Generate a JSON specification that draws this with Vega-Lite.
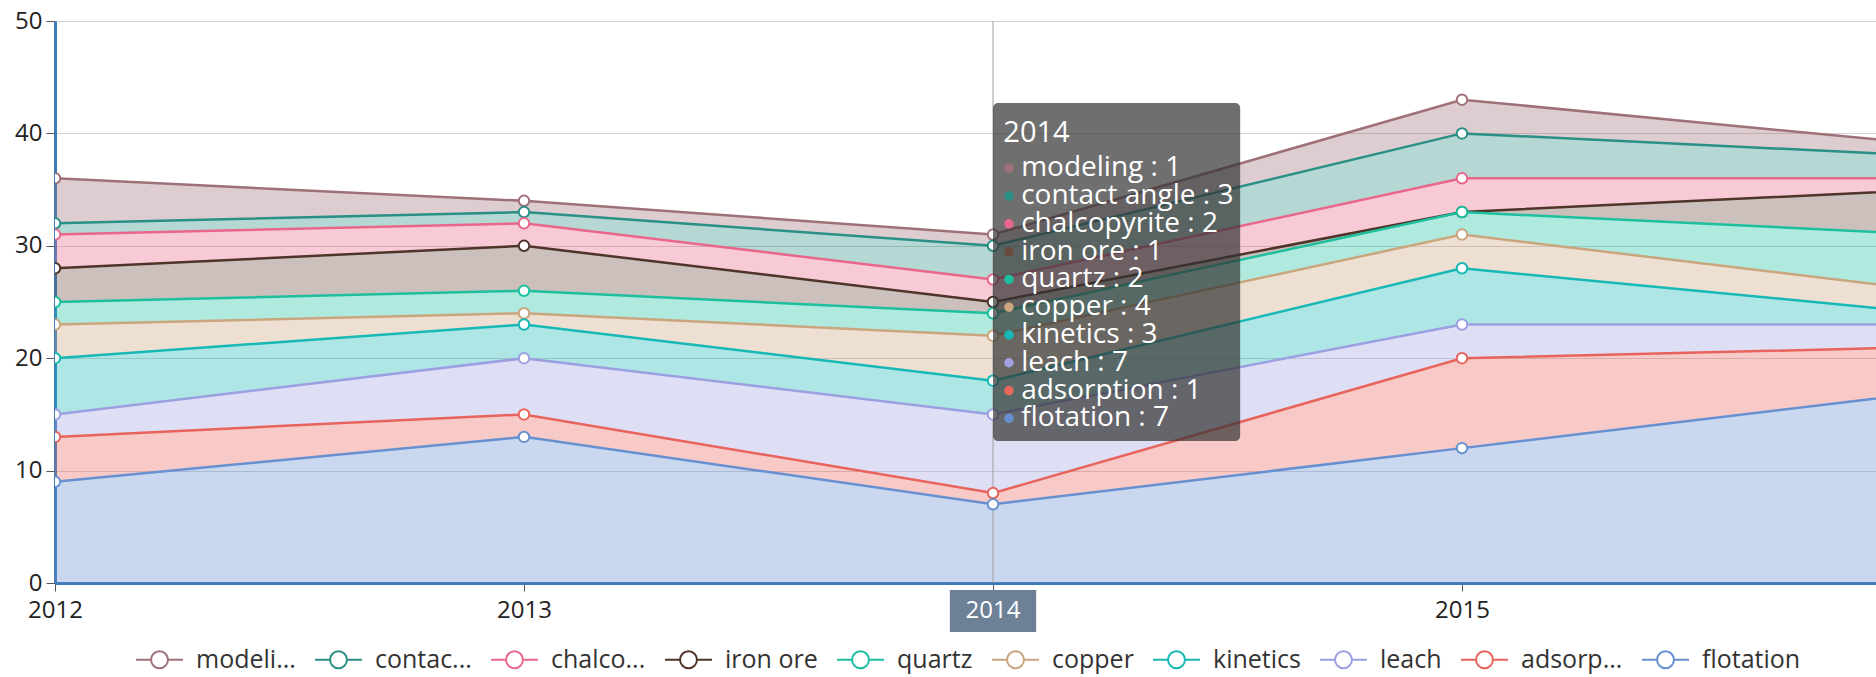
{
  "$schema": "https://vega.github.io/schema/vega-lite/v6.json",
  "width": 1821,
  "height": 562,
  "autosize": {"type": "none"},
  "padding": {"left": 55, "top": 21, "right": 0, "bottom": 94},
  "background": "white",
  "config": {
    "font": "Open Sans",
    "view": {"stroke": null}
  },
  "datasets": {
    "d": [
      {"year": 2012, "series": "modeling", "value": 4},
      {"year": 2012, "series": "contact angle", "value": 1},
      {"year": 2012, "series": "chalcopyrite", "value": 3},
      {"year": 2012, "series": "iron ore", "value": 3},
      {"year": 2012, "series": "quartz", "value": 2},
      {"year": 2012, "series": "copper", "value": 3},
      {"year": 2012, "series": "kinetics", "value": 5},
      {"year": 2012, "series": "leach", "value": 2},
      {"year": 2012, "series": "adsorption", "value": 4},
      {"year": 2012, "series": "flotation", "value": 9},
      {"year": 2013, "series": "modeling", "value": 1},
      {"year": 2013, "series": "contact angle", "value": 1},
      {"year": 2013, "series": "chalcopyrite", "value": 2},
      {"year": 2013, "series": "iron ore", "value": 4},
      {"year": 2013, "series": "quartz", "value": 2},
      {"year": 2013, "series": "copper", "value": 1},
      {"year": 2013, "series": "kinetics", "value": 3},
      {"year": 2013, "series": "leach", "value": 5},
      {"year": 2013, "series": "adsorption", "value": 2},
      {"year": 2013, "series": "flotation", "value": 13},
      {"year": 2014, "series": "modeling", "value": 1},
      {"year": 2014, "series": "contact angle", "value": 3},
      {"year": 2014, "series": "chalcopyrite", "value": 2},
      {"year": 2014, "series": "iron ore", "value": 1},
      {"year": 2014, "series": "quartz", "value": 2},
      {"year": 2014, "series": "copper", "value": 4},
      {"year": 2014, "series": "kinetics", "value": 3},
      {"year": 2014, "series": "leach", "value": 7},
      {"year": 2014, "series": "adsorption", "value": 1},
      {"year": 2014, "series": "flotation", "value": 7},
      {"year": 2015, "series": "modeling", "value": 3},
      {"year": 2015, "series": "contact angle", "value": 4},
      {"year": 2015, "series": "chalcopyrite", "value": 3},
      {"year": 2015, "series": "iron ore", "value": 0},
      {"year": 2015, "series": "quartz", "value": 2},
      {"year": 2015, "series": "copper", "value": 3},
      {"year": 2015, "series": "kinetics", "value": 5},
      {"year": 2015, "series": "leach", "value": 3},
      {"year": 2015, "series": "adsorption", "value": 8},
      {"year": 2015, "series": "flotation", "value": 12},
      {"year": 2016, "series": "modeling", "value": 1},
      {"year": 2016, "series": "contact angle", "value": 2},
      {"year": 2016, "series": "chalcopyrite", "value": 1},
      {"year": 2016, "series": "iron ore", "value": 4},
      {"year": 2016, "series": "quartz", "value": 5},
      {"year": 2016, "series": "copper", "value": 2},
      {"year": 2016, "series": "kinetics", "value": 1},
      {"year": 2016, "series": "leach", "value": 2},
      {"year": 2016, "series": "adsorption", "value": 4},
      {"year": 2016, "series": "flotation", "value": 17}
    ]
  },
  "layer": [
    {
      "layer": [
        {
          "data": {"name": "d"},
          "transform": [
            {"calculate": "indexof(['flotation','adsorption','leach','kinetics','copper','quartz','iron ore','chalcopyrite','contact angle','modeling'], datum.series)", "as": "rank"},
            {"stack": "value", "groupby": ["year"], "sort": [{"field": "rank", "order": "ascending"}], "as": ["y0", "y1"]}
          ],
          "mark": {"type": "area", "fillOpacity": 0.35, "clip": true},
          "encoding": {
            "x": {"field": "year", "type": "quantitative", "scale": {"domain": [2012, 2015.8827], "nice": false, "zero": false},
              "axis": {"values": [2012, 2013, 2014, 2015], "format": "d", "title": null, "grid": false, "labelFlush": false,
                "domainColor": "#3d7ab8", "domainWidth": 3, "tickColor": "#555", "tickSize": 8, "labelPadding": 7,
                "labelFontSize": 24, "labelColor": "#222", "labelFont": "Open Sans"}},
            "y": {"field": "y1", "type": "quantitative", "scale": {"domain": [0, 50], "nice": false},
              "axis": {"values": [0, 10, 20, 30, 40, 50], "title": null, "grid": true, "gridColor": "#d2d2d2", "gridWidth": 1,
                "domainColor": "#3d7ab8", "domainWidth": 3, "tickColor": "#555", "tickSize": 9, "labelPadding": 4,
                "labelFontSize": 24, "labelColor": "#222", "labelFont": "Open Sans"}},
            "y2": {"field": "y0"},
            "fill": {"field": "series", "type": "nominal", "legend": null,
              "scale": {"domain": ["flotation", "adsorption", "leach", "kinetics", "copper", "quartz", "iron ore", "chalcopyrite", "contact angle", "modeling"],
                "range": ["#6690d0", "#e8685f", "#a1a1e2", "#17b8b5", "#cca67e", "#1dbf9f", "#6a4a3e", "#e8678a", "#2a8f85", "#9e7178"]}}
          }
        },
        {
          "data": {"values": [{}]},
          "mark": {"type": "rule", "color": "#a0a0a0", "strokeWidth": 1},
          "encoding": {
            "x": {"datum": 2014},
            "y": {"datum": 50},
            "y2": {"datum": 0}
          }
        },
        {
          "data": {"name": "d"},
          "transform": [
            {"calculate": "indexof(['flotation','adsorption','leach','kinetics','copper','quartz','iron ore','chalcopyrite','contact angle','modeling'], datum.series)", "as": "rank"},
            {"stack": "value", "groupby": ["year"], "sort": [{"field": "rank", "order": "ascending"}], "as": ["y0", "y1"]}
          ],
          "mark": {"type": "line", "strokeWidth": 2.5, "clip": true},
          "encoding": {
            "x": {"field": "year", "type": "quantitative"},
            "y": {"field": "y1", "type": "quantitative"},
            "stroke": {"field": "series", "type": "nominal",
              "scale": {"domain": ["modeling", "contact angle", "chalcopyrite", "iron ore", "quartz", "copper", "kinetics", "leach", "adsorption", "flotation"],
                "range": ["#9e7178", "#2a8f85", "#e8678a", "#4e3429", "#1dbf9f", "#c9a67e", "#17b8b5", "#9c9fe2", "#e8635c", "#6690d0"]},
              "legend": {"orient": "none", "legendX": 91, "legendY": 625, "direction": "horizontal", "title": null,
                "symbolType": "M-1.92,0H-0.69M0.69,0H1.92M-0.69,0A0.69,0.69,0,1,1,0.69,0A0.69,0.69,0,1,1,-0.69,0Z",
                "symbolSize": 600, "symbolStrokeWidth": 2, "symbolFillColor": "white",
                "labelFontSize": 25, "labelColor": "#333", "labelFont": "Open Sans", "columnPadding": 14, "labelOffset": 23,
                "labelExpr": "datum.label == 'modeling' ? 'modeli...' : datum.label == 'contact angle' ? 'contac...' : datum.label == 'chalcopyrite' ? 'chalco...' : datum.label == 'adsorption' ? 'adsorp...' : datum.label"}}
          }
        },
        {
          "data": {"name": "d"},
          "transform": [
            {"calculate": "indexof(['flotation','adsorption','leach','kinetics','copper','quartz','iron ore','chalcopyrite','contact angle','modeling'], datum.series)", "as": "rank"},
            {"stack": "value", "groupby": ["year"], "sort": [{"field": "rank", "order": "ascending"}], "as": ["y0", "y1"]}
          ],
          "mark": {"type": "point", "filled": true, "fill": "white", "size": 110, "strokeWidth": 2, "opacity": 1, "clip": true},
          "encoding": {
            "x": {"field": "year", "type": "quantitative"},
            "y": {"field": "y1", "type": "quantitative"},
            "stroke": {"field": "series", "type": "nominal",
              "legend": {"orient": "none", "legendX": 91, "legendY": 625, "direction": "horizontal", "title": null,
                "symbolType": "M-1.92,0H-0.69M0.69,0H1.92M-0.69,0A0.69,0.69,0,1,1,0.69,0A0.69,0.69,0,1,1,-0.69,0Z",
                "symbolSize": 600, "symbolStrokeWidth": 2, "symbolFillColor": "white",
                "labelFontSize": 25, "labelColor": "#333", "labelFont": "Open Sans", "columnPadding": 14, "labelOffset": 23,
                "labelExpr": "datum.label == 'modeling' ? 'modeli...' : datum.label == 'contact angle' ? 'contac...' : datum.label == 'chalcopyrite' ? 'chalco...' : datum.label == 'adsorption' ? 'adsorp...' : datum.label"}}
          }
        },
        {
          "data": {"values": [{}]},
          "mark": {"type": "rect", "fill": "#323232", "opacity": 0.7, "cornerRadius": 5},
          "encoding": {
            "x": {"datum": 2014},
            "x2": {"datum": 2014.527},
            "y": {"datum": 42.7},
            "y2": {"datum": 12.63}
          }
        },
        {
          "data": {"values": [{}]},
          "mark": {"type": "text", "text": "2014", "color": "white", "fontSize": 29, "align": "left", "baseline": "middle", "font": "Open Sans"},
          "encoding": {
            "x": {"datum": 2014.022},
            "y": {"datum": 40.04}
          }
        },
        {
          "data": {"values": [{}]},
          "mark": {"type": "rect", "fill": "#6e8096"},
          "encoding": {
            "x": {"datum": 2013.908},
            "x2": {"datum": 2014.092},
            "y": {"datum": -0.62},
            "y2": {"datum": -4.36}
          }
        },
        {
          "data": {"values": [{}]},
          "mark": {"type": "text", "text": "2014", "color": "white", "fontSize": 24, "align": "center", "baseline": "middle", "font": "Open Sans"},
          "encoding": {
            "x": {"datum": 2014},
            "y": {"datum": -2.45}
          }
        }
      ]
    },
    {
      "data": {"name": "d"},
      "transform": [
        {"filter": "datum.year == 2014"},
        {"calculate": "datum.series + ' : ' + datum.value", "as": "label"}
      ],
      "layer": [
        {
          "mark": {"type": "circle", "size": 90, "opacity": 1},
          "encoding": {
            "x": {"datum": 2014.034},
            "y": {"field": "series", "type": "nominal", "axis": null,
              "scale": {"type": "point", "domain": ["modeling", "contact angle", "chalcopyrite", "iron ore", "quartz", "copper", "kinetics", "leach", "adsorption", "flotation"], "range": [147.3, 397.3], "padding": 0}},
            "fill": {"field": "series", "type": "nominal", "legend": null}
          }
        },
        {
          "mark": {"type": "text", "color": "white", "fontSize": 28, "align": "left", "baseline": "middle", "font": "Open Sans"},
          "encoding": {
            "x": {"datum": 2014.06},
            "y": {"field": "series", "type": "nominal", "axis": null,
              "scale": {"type": "point", "domain": ["modeling", "contact angle", "chalcopyrite", "iron ore", "quartz", "copper", "kinetics", "leach", "adsorption", "flotation"], "range": [147.3, 397.3], "padding": 0}},
            "text": {"field": "label"}
          }
        }
      ]
    }
  ],
  "resolve": {"scale": {"y": "independent"}}
}
